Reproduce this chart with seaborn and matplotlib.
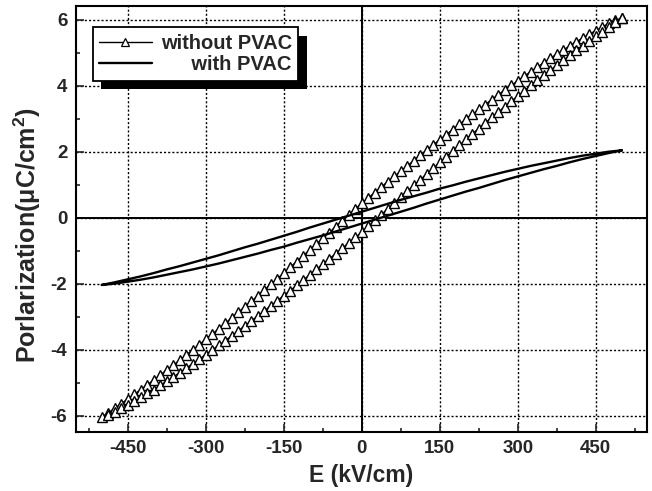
import matplotlib
matplotlib.use("Agg")
import matplotlib.pyplot as plt
import matplotlib.patheffects as pe
from matplotlib.ticker import MultipleLocator
import seaborn as sns
import pandas as pd

# ---------------- data ----------------
# "without PVAC" loop: descending field branch (upper) then ascending branch (lower)
e_without_down = [500, 487.5, 475, 462.5, 450, 437.5, 425, 412.5, 400, 387.5, 375, 362.5, 350, 337.5,
                  325, 312.5, 300, 287.5, 275, 262.5, 250, 237.5, 225, 212.5, 200, 187.5, 175, 162.5,
                  150, 137.5, 125, 112.5, 100, 87.5, 75, 62.5, 50, 37.5, 25, 12.5, 0,
                  -12.5, -25, -37.5, -50, -62.5, -75, -87.5, -100, -112.5, -125, -137.5, -150, -162.5,
                  -175, -187.5, -200, -212.5, -225, -237.5, -250, -262.5, -275, -287.5, -300, -312.5,
                  -325, -337.5, -350, -362.5, -375, -387.5, -400, -412.5, -425, -437.5, -450, -462.5,
                  -475, -487.5, -500]
p_without_down = [6.05, 5.98, 5.89, 5.78, 5.67, 5.56, 5.45, 5.33, 5.21, 5.08, 4.96, 4.83, 4.70, 4.56,
                  4.43, 4.29, 4.15, 4.01, 3.87, 3.73, 3.58, 3.43, 3.28, 3.13, 2.98, 2.83, 2.67, 2.52,
                  2.36, 2.21, 2.05, 1.89, 1.73, 1.57, 1.41, 1.25, 1.09, 0.93, 0.76, 0.60, 0.44,
                  0.26, 0.08, -0.09, -0.27, -0.45, -0.63, -0.80, -0.98, -1.15, -1.33, -1.50, -1.68, -1.85,
                  -2.02, -2.19, -2.37, -2.54, -2.70, -2.87, -3.04, -3.20, -3.37, -3.53, -3.69, -3.85,
                  -4.01, -4.16, -4.32, -4.47, -4.62, -4.77, -4.92, -5.07, -5.21, -5.36, -5.50, -5.64,
                  -5.78, -5.92, -6.05]
e_without_up = [-487.5, -475, -462.5, -450, -437.5, -425, -412.5, -400, -387.5, -375, -362.5, -350,
                -337.5, -325, -312.5, -300, -287.5, -275, -262.5, -250, -237.5, -225, -212.5, -200,
                -187.5, -175, -162.5, -150, -137.5, -125, -112.5, -100, -87.5, -75, -62.5, -50, -37.5,
                -25, -12.5, 0, 12.5, 25, 37.5, 50, 62.5, 75, 87.5, 100, 112.5, 125, 137.5, 150, 162.5,
                175, 187.5, 200, 212.5, 225, 237.5, 250, 262.5, 275, 287.5, 300, 312.5, 325, 337.5,
                350, 362.5, 375, 387.5, 400, 412.5, 425, 437.5, 450, 462.5, 475, 487.5, 500]
p_without_up = [-5.98, -5.89, -5.78, -5.67, -5.56, -5.45, -5.33, -5.21, -5.08, -4.96, -4.83, -4.70,
                -4.56, -4.43, -4.29, -4.15, -4.01, -3.87, -3.73, -3.58, -3.43, -3.28, -3.13, -2.98,
                -2.83, -2.67, -2.52, -2.36, -2.21, -2.05, -1.89, -1.73, -1.57, -1.41, -1.25, -1.09, -0.93,
                -0.76, -0.60, -0.44, -0.26, -0.08, 0.09, 0.27, 0.45, 0.63, 0.80, 0.98, 1.15, 1.33, 1.50,
                1.68, 1.85, 2.02, 2.19, 2.37, 2.54, 2.70, 2.87, 3.04, 3.20, 3.37, 3.53, 3.69, 3.85,
                4.01, 4.16, 4.32, 4.47, 4.62, 4.77, 4.92, 5.07, 5.21, 5.36, 5.50, 5.64, 5.78, 5.92, 6.05]

# "with PVAC" loop (descending branch, then ascending branch)
e_with = [500, 475, 450, 425, 400, 375, 350, 325, 300, 275, 250, 225, 200, 175, 150, 125, 100, 75, 50, 25, 0,
          -25, -50, -75, -100, -125, -150, -175, -200, -225, -250, -275, -300, -325, -350, -375, -400,
          -425, -450, -475, -500,
          -475, -450, -425, -400, -375, -350, -325, -300, -275, -250, -225, -200, -175, -150, -125,
          -100, -75, -50, -25, 0, 25, 50, 75, 100, 125, 150, 175, 200, 225, 250, 275, 300, 325, 350,
          375, 400, 425, 450, 475, 500]
p_with = [2.04, 2.00, 1.94, 1.88, 1.81, 1.73, 1.65, 1.57, 1.48, 1.39, 1.29, 1.19, 1.09, 0.98, 0.88, 0.76,
          0.65, 0.54, 0.42, 0.30, 0.18,
          0.06, -0.06, -0.18, -0.30, -0.43, -0.55, -0.67, -0.79, -0.90, -1.02, -1.14, -1.25, -1.36,
          -1.47, -1.57, -1.68, -1.78, -1.87, -1.96, -2.04,
          -2.00, -1.94, -1.88, -1.81, -1.73, -1.65, -1.57, -1.48, -1.39, -1.29, -1.19, -1.09, -0.98,
          -0.88, -0.76, -0.65, -0.54, -0.42, -0.30, -0.18,
          -0.06, 0.06, 0.18, 0.30, 0.43, 0.55, 0.67, 0.79, 0.90, 1.02, 1.14, 1.25, 1.36, 1.47, 1.57,
          1.68, 1.78, 1.87, 1.96, 2.04]

x_ticks = [-450, -300, -150, 0, 150, 300, 450]
y_ticks = [-6, -4, -2, 0, 2, 4, 6]
label_without = "without PVAC"
label_with = "\u2002\u2002\u2002with PVAC"
x_label = "E (kV/cm)"
y_label = "Porlarization(\u03bcC/cm$^\\mathbf{2}$)"

# ---------------- styling ----------------
sns.set_style("ticks")
plt.rcParams['font.family'] = ['Liberation Sans', 'DejaVu Sans']
plt.rcParams['font.weight'] = 'bold'
plt.rcParams['axes.unicode_minus'] = False
plt.rcParams['mathtext.fontset'] = 'custom'
plt.rcParams['mathtext.bf'] = 'Liberation Sans:bold'
plt.rcParams['mathtext.rm'] = 'Liberation Sans:bold'
plt.rcParams['mathtext.default'] = 'bf'

fig = plt.figure(figsize=(6.52, 4.91), dpi=100)
ax = fig.add_axes([0.116, 0.120, 0.876, 0.868])

df_without = pd.DataFrame({"E": e_without_down + e_without_up,
                           "P": p_without_down + p_without_up})
df_with = pd.DataFrame({"E": e_with, "P": p_with})

sns.lineplot(data=df_without, x="E", y="P", ax=ax, sort=False, estimator=None,
             color="black", linewidth=1.0, marker="^", markersize=7,
             markerfacecolor="white", markeredgecolor="black", markeredgewidth=1.0,
             label=label_without, zorder=3)
sns.lineplot(data=df_with, x="E", y="P", ax=ax, sort=False, estimator=None,
             color="black", linewidth=1.7, label=label_with, zorder=4)

ax.set_xlim(-550, 548)
ax.set_ylim(-6.5, 6.42)
ax.set_xticks(x_ticks)
ax.set_yticks(y_ticks)
ax.xaxis.set_minor_locator(MultipleLocator(75))
ax.yaxis.set_minor_locator(MultipleLocator(1))
ax.tick_params(which='major', direction='in', length=6, width=1.2, labelsize=13.5,
               top=False, right=False, pad=6)
ax.tick_params(which='minor', direction='in', length=3, width=1.2, top=False, right=False)
for lab in ax.get_xticklabels() + ax.get_yticklabels():
    lab.set_fontweight('bold')

ax.grid(True, which='major', color='black', linestyle=(0, (1.5, 1.5)), linewidth=1.0)
ax.axhline(0, color='black', linewidth=1.4, zorder=2)
ax.axvline(0, color='black', linewidth=1.4, zorder=2)
for sp in ax.spines.values():
    sp.set_linewidth(1.5)
    sp.set_color('black')

ax.set_xlabel(x_label, fontsize=16.5, fontweight='bold', labelpad=5)
ax.set_ylabel(y_label, fontsize=18, fontweight='bold')
ax.yaxis.set_label_coords(-0.058, 0.462)

leg = ax.legend(loc='upper left', bbox_to_anchor=(0.03, 0.95), borderaxespad=0,
                frameon=True, fancybox=False, edgecolor='black', framealpha=1,
                prop={'weight': 'bold', 'size': 14.5}, handlelength=2.6, handletextpad=0.45,
                borderpad=0.32, labelspacing=0.12)
leg.get_frame().set_linewidth(1.3)
leg.get_frame().set_path_effects([pe.SimplePatchShadow(offset=(6, -6), shadow_rgbFace='black', alpha=1),
                                  pe.Normal()])
for h in leg.legend_handles:
    try:
        h.set_markersize(6)
        h.set_markeredgewidth(0.9)
    except Exception:
        pass

fig.savefig("out.png", dpi=100)
